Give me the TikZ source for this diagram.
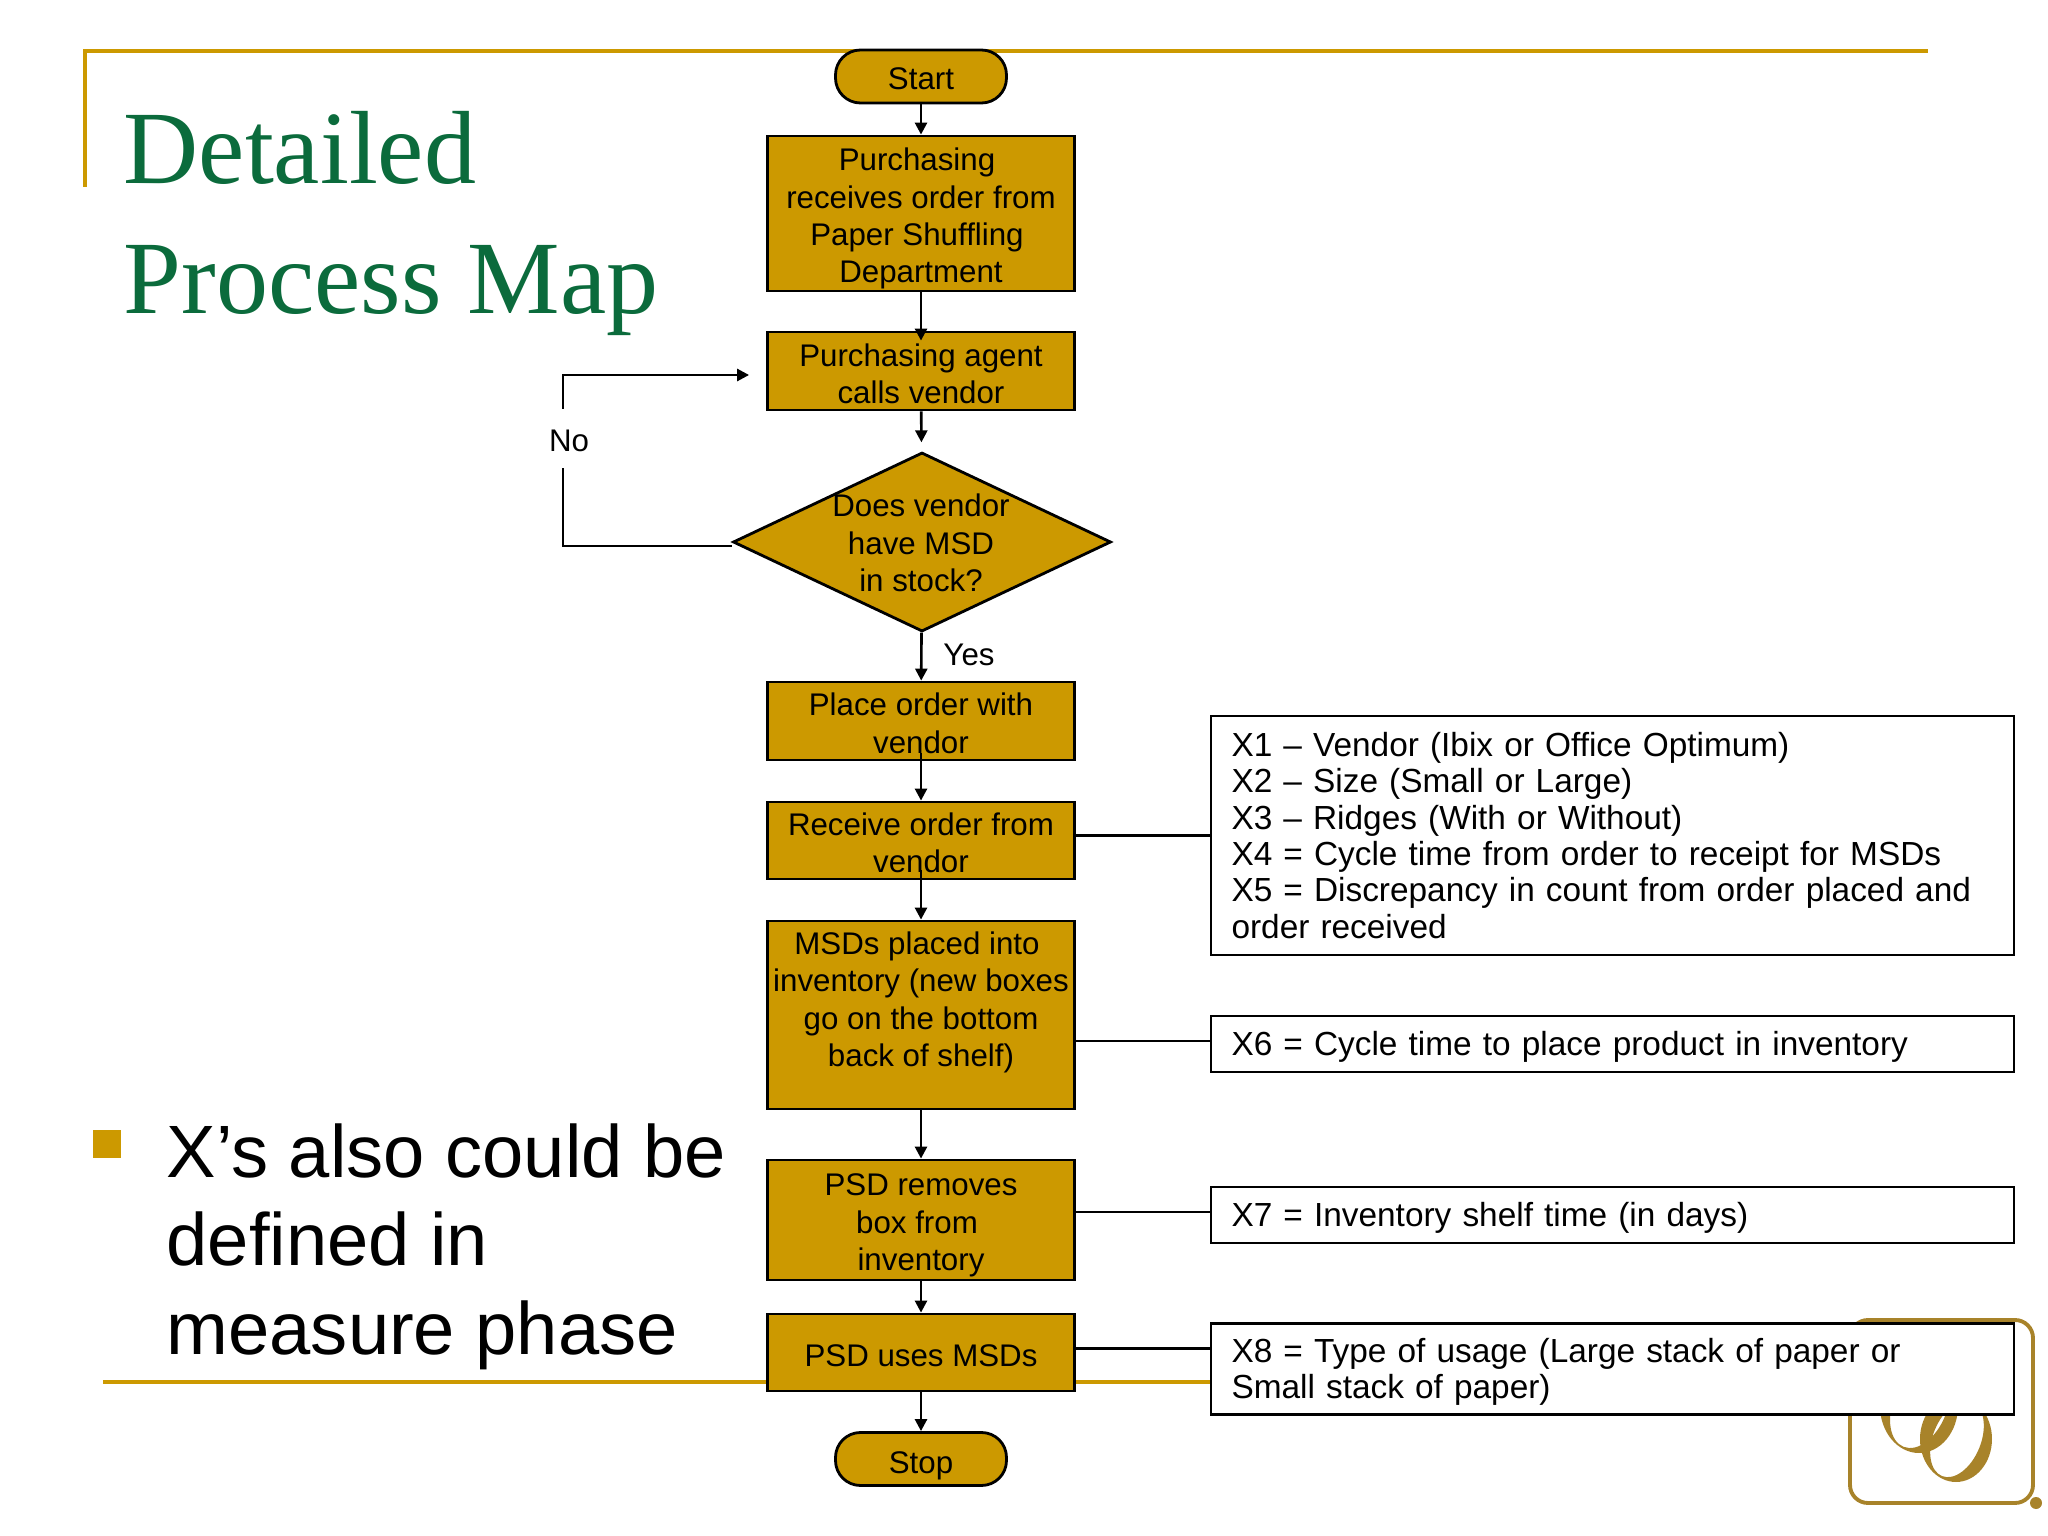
\documentclass[tikz,border=0pt]{standalone}
\usepackage{fontspec}
\setmainfont{Liberation Sans}
\newfontfamily\titlefont{Liberation Serif}
\usetikzlibrary{arrows.meta,shapes.geometric}
\definecolor{gold}{HTML}{CC9900}
\definecolor{logogold}{HTML}{A8832A}
\definecolor{titlegreen}{HTML}{0B6B3C}
\newcommand{\topgap}[1]{\rule{0pt}{#1cm}}
\newcommand{\lowgap}[1]{\rule[-#1cm]{0pt}{0pt}}

\begin{document}
\begin{tikzpicture}

\tikzset{procbox/.style = {shape=rectangle,draw,fill=gold,line width=.8pt,inner sep=0pt,align=center,minimum width=3.07cm,font=\fontsize{8.9}{10.65}\selectfont}}
\tikzset{termbox/.style = {procbox,rounded corners=.25cm,minimum width=1.71cm,minimum height=.53cm}}
\tikzset{decbox/.style = {shape=diamond,draw,fill=gold,line width=.8pt,inner sep=0pt,minimum width=3.78cm,minimum height=1.79cm}}
\tikzset{dectext/.style = {inner sep=0pt,align=center,font=\fontsize{8.9}{10.65}\selectfont}}
\tikzset{notebox/.style = {shape=rectangle,draw,fill=white,line width=.8pt,inner sep=0pt,minimum width=8.03cm,text width=7.62cm,align=left,font=\fontsize{9.5}{10.35}\selectfont}}
\tikzset{tag/.style = {inner sep=0pt,font=\fontsize{8.9}{10.65}\selectfont}}
\tikzset{edge/.style = {-{Triangle[length=.12cm,width=.12cm]},line width=.75pt}}
\tikzset{link/.style = {line width=.75pt}}
\tikzset{frame/.style = {gold,line width=1.4pt}}
\tikzset{title/.style = {anchor=base west,inner sep=0pt,titlegreen,font=\titlefont\fontsize{29.6}{30}\selectfont}}
\tikzset{point/.style = {anchor=base west,inner sep=0pt,font=\fontsize{21.1}{25}\selectfont}}

\useasboundingbox (0,0) rectangle (20.48,-15.36);

% slide frame
\draw[frame] (.85,-1.87) -- (.85,-.51) -- (19.28,-.51);
\draw[gold,line width=1.1pt] (1.03,-13.82) -- (12.11,-13.82);
\node[title] (t1) at (1.23,-1.84) {Detailed};
\node[title] (t2) at (1.23,-3.14) {Process Map};
\fill[gold] (.93,-11.30) rectangle (1.21,-11.58);
\node[point] (p1) at (1.66,-11.77) {X’s also could be};
\node[point] (p2) at (1.66,-12.65) {defined in};
\node[point] (p3) at (1.66,-13.54) {measure phase};

% logo
\draw[logogold,line width=1.1pt,rounded corners=.18cm] (18.50,-13.20) rectangle (20.33,-15.03);
\fill[logogold] (20.36,-15.03) circle (.06);
\fill[logogold,even odd rule] (19.19,-14.06) ellipse [x radius=.39,y radius=.47] (19.20,-14.06) ellipse [x radius=.27,y radius=.44,rotate=-22];
\fill[logogold,even odd rule] (19.56,-14.39) ellipse [x radius=.36,y radius=.43] (19.57,-14.39) ellipse [x radius=.24,y radius=.40,rotate=-22];

% steps
\node[termbox] (start) at (9.21,-.765) {\topgap{.26}Start};
\node[procbox,minimum height=1.55cm] (recv) at (9.21,-2.135) {\topgap{.33}Purchasing\kern.08cm\\receives order from\\Paper Shuffling\kern.08cm\\Department};
\node[procbox,minimum height=.78cm] (agent) at (9.21,-3.71) {\topgap{.28}Purchasing agent\\calls vendor};
\node[decbox] (dec) at (9.22,-5.42) {};
\node[dectext] (dectxt) at (9.21,-5.43) {Does vendor\\have MSD\\in stock?};
\node[procbox,minimum height=.78cm] (order) at (9.21,-7.21) {\topgap{.27}Place order with\\vendor};
\node[procbox,minimum height=.77cm] (receive) at (9.21,-8.405) {\topgap{.27}Receive order from\\vendor};
\node[procbox,minimum height=1.88cm] (msd) at (9.21,-10.15) {MSDs placed into\kern.08cm\\inventory (new boxes\\go on the bottom\\back of shelf)\lowgap{.32}};
\node[procbox,minimum height=1.2cm] (psd) at (9.21,-12.20) {\topgap{.33}PSD removes\\box from\kern.08cm\\inventory};
\node[procbox,minimum height=.77cm] (use) at (9.21,-13.525) {\topgap{.28}PSD uses MSDs};
\node[termbox] (stop) at (9.21,-14.59) {\topgap{.35}Stop};

% notes
\node[notebox,minimum height=2.39cm] (xa) at (16.125,-8.355) {X1 – Vendor (Ibix or Office Optimum)\\X2 – Size (Small or Large)\\X3 – Ridges (With or Without)\\X4 = Cycle time from order to receipt for MSDs\\X5 = Discrepancy in count from order placed and\\order received};
\node[notebox,minimum height=.56cm] (xb) at (16.125,-10.44) {\topgap{.3}X6 = Cycle time to place product in inventory};
\node[notebox,minimum height=.56cm] (xc) at (16.125,-12.15) {\topgap{.3}X7 = Inventory shelf time (in days)};
\node[notebox,minimum height=.91cm] (xd) at (16.125,-13.69) {\topgap{.3}X8 = Type of usage (Large stack of paper or\\Small stack of paper)};

% labels
\node[tag] (no) at (5.69,-4.41) {No};
\node[tag] (yes) at (9.69,-6.55) {Yes};

\coordinate (nolow) at (5.63,-5.46);
\coordinate (nomid) at (5.63,-4.68);
\coordinate (notop) at (5.63,-4.09);
\coordinate (noup) at (5.63,-3.75);

%edges
\draw[edge] (start) to (recv);
\draw[edge,shorten >=-.1cm] (recv) to (agent);
\draw[edge,shorten >=.09cm] (agent) to (dec);
\draw[edge] (dec) to (order);
\draw[edge,shorten <=-.08cm] (order) to (receive);
\draw[edge,shorten <=-.1cm] (receive) to (msd);
\draw[edge] (msd) to (psd);
\draw[edge] (psd) to (use);
\draw[edge] (use) to (stop);

\draw[link] (dec.west |- nolow) -- (nolow) -- (nomid);
\draw[edge,shorten >=.17cm] (notop) -- (noup) -- (noup -| agent.west);

\draw[link] (xa.west -| receive.east) -- (xa.west);
\draw[link] ([yshift=.03cm]xb.west -| msd.east) -- ([yshift=.03cm]xb.west);
\draw[link] ([yshift=.03cm]xc.west -| psd.east) -- ([yshift=.03cm]xc.west);
\draw[link] ([yshift=.04cm]use.east) -- ([yshift=.04cm]use.east -| xd.west);

\end{tikzpicture}
\end{document}
